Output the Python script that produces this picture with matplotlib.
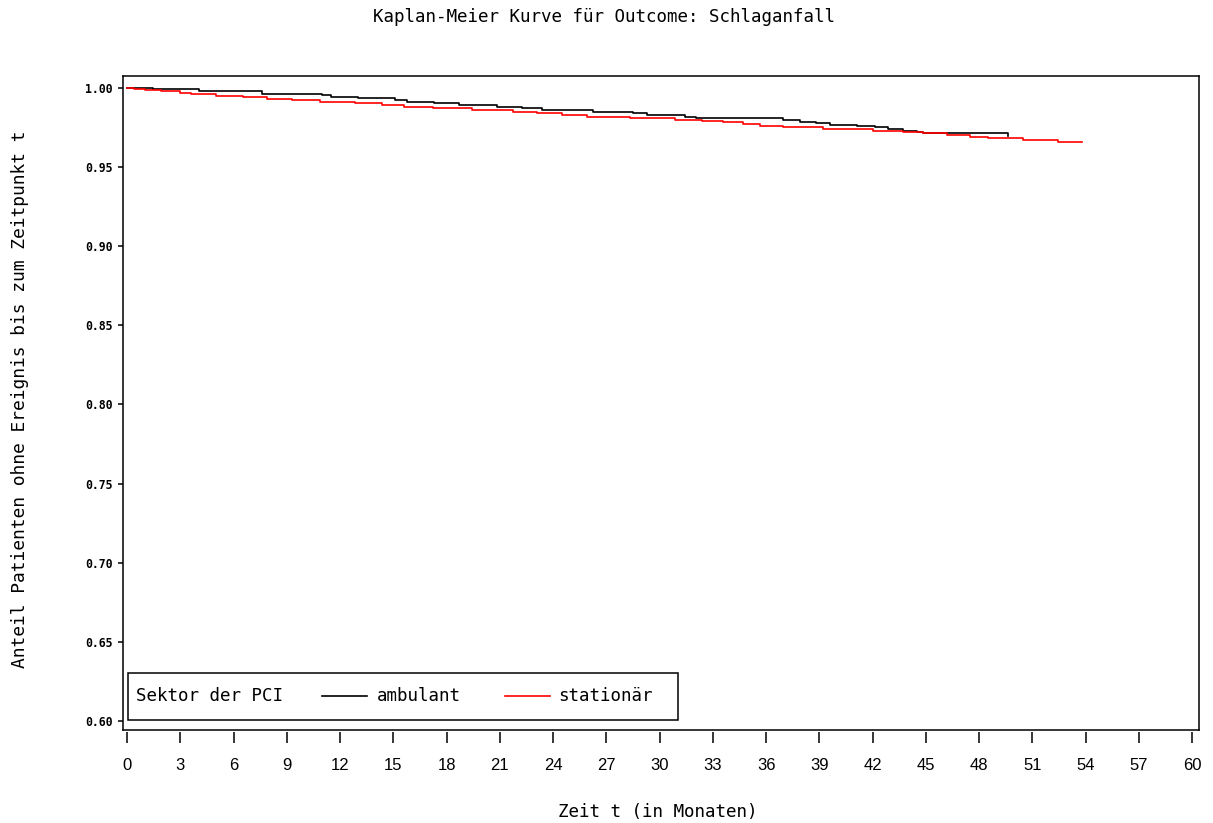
"""
Kaplan-Meier Kurve (Schlaganfall) nach Sektor der PCI
"""
import matplotlib
matplotlib.use("Agg")
import matplotlib.pyplot as plt
from matplotlib.patches import Rectangle
from matplotlib.lines import Line2D

# Stufen der Kurven (Zeit in Monaten, Anteil ohne Ereignis)
amb_time = [0.0, 1.44, 4.08, 7.63, 11.01, 11.52, 12.99, 15.07, 15.80, 17.32,
            18.73, 20.87, 22.23, 23.35, 26.23, 28.48, 29.32, 31.41, 32.08, 36.93,
            37.89, 38.84, 39.58, 41.10, 42.11, 42.85, 43.69, 44.48, 44.82, 46.23,
            49.61]
amb_surv = [1.0000, 0.9994, 0.9981, 0.9964, 0.9956, 0.9945, 0.9935, 0.9924, 0.9913, 0.9903,
            0.9893, 0.9882, 0.9872, 0.9861, 0.9850, 0.9840, 0.9829, 0.9819, 0.9809, 0.9798,
            0.9787, 0.9779, 0.9769, 0.9762, 0.9752, 0.9744, 0.9730, 0.9724, 0.9718, 0.9714,
            0.9699]

stat_time = [0.0, 0.42, 0.99, 1.94, 2.96, 3.63, 5.04, 6.51, 7.86, 9.27,
             10.85, 12.82, 14.34, 15.63, 17.21, 19.41, 21.72, 23.07, 24.48, 25.94,
             28.31, 30.85, 32.37, 33.55, 34.68, 35.63, 36.93, 39.18, 42.00, 43.69,
             44.82, 46.17, 47.46, 48.48, 50.45, 52.42, 53.77]
stat_surv = [1.0000, 0.9994, 0.9987, 0.9978, 0.9968, 0.9960, 0.9949, 0.9940, 0.9930, 0.9921,
             0.9913, 0.9903, 0.9893, 0.9882, 0.9872, 0.9861, 0.9850, 0.9840, 0.9829, 0.9819,
             0.9809, 0.9798, 0.9791, 0.9783, 0.9773, 0.9762, 0.9752, 0.9741, 0.9730, 0.9724,
             0.9714, 0.9703, 0.9692, 0.9682, 0.9671, 0.9661, 0.9661]

x_ticks = list(range(0, 61, 3))
y_ticks = [0.60, 0.65, 0.70, 0.75, 0.80, 0.85, 0.90, 0.95, 1.00]

groups = ["ambulant", "stationär"]
colors = ["black", "red"]

mono = "DejaVu Sans Mono"

fig = plt.figure(figsize=(12.13, 8.23), dpi=100)
ax = fig.add_axes([0.1014, 0.1130, 0.8871, 0.7947])

# Kurven
ax.step(amb_time, amb_surv, where="post", color=colors[0], lw=1.2)
ax.step(stat_time, stat_surv, where="post", color=colors[1], lw=1.2)

ax.set_xlim(-0.225, 60.39)
ax.set_ylim(0.5943, 1.0076)

# Rahmen
for s in ax.spines.values():
    s.set_linewidth(1.1)
ax.spines["bottom"].set_position(("outward", 1.5))
ax.spines["bottom"].set_color("none")
ax.plot([0, 1], [0, 0], transform=ax.transAxes, color="black", lw=1.1, clip_on=False)

ax.set_xticks(x_ticks)
ax.set_xticklabels([str(t) for t in x_ticks], fontfamily="Liberation Sans", fontsize=12)
ax.tick_params(axis="x", direction="out", length=8, width=1.1, pad=10.5)

ax.set_yticks(y_ticks)
ax.set_yticklabels([f"{v:.2f}" for v in y_ticks], fontfamily=mono, fontweight="bold", fontsize=8.3)
ax.tick_params(axis="y", direction="out", length=3.6, width=1.1, pad=3.6)

# Legende
ax.add_patch(Rectangle((0.0046, 0.0153), 0.5112, 0.0719, transform=ax.transAxes,
                       fill=False, edgecolor="black", lw=1.1))
ax.text(0.0121, 0.052, "Sektor der PCI", transform=ax.transAxes, fontfamily=mono,
        fontsize=12.6, va="center", ha="left")
leg_line_x = [(0.1849, 0.2268), (0.3550, 0.3968)]
leg_text_x = [0.2361, 0.4043]
for g, c, (x0, x1), tx in zip(groups, colors, leg_line_x, leg_text_x):
    ax.add_line(Line2D([x0, x1], [0.052, 0.052], transform=ax.transAxes, color=c, lw=1.2))
    ax.text(tx, 0.052, g, transform=ax.transAxes, fontfamily=mono, fontsize=12.6,
            va="center", ha="left")

# Titel und Achsenbeschriftungen
fig.text(0.498, 1 - 17 / 823, "Kaplan-Meier Kurve für Outcome: Schlaganfall",
         fontfamily=mono, fontsize=12.6, ha="center", va="center")
fig.text(20 / 1213, 1 - 399 / 823, "Anteil Patienten ohne Ereignis bis zum Zeitpunkt t",
         fontfamily=mono, fontsize=12.9, ha="center", va="center", rotation=90)
fig.text(658 / 1213, 1 - 812 / 823, "Zeit t (in Monaten)",
         fontfamily=mono, fontsize=12.6, ha="center", va="center")

fig.savefig("out.png", dpi=100)
plt.close(fig)
